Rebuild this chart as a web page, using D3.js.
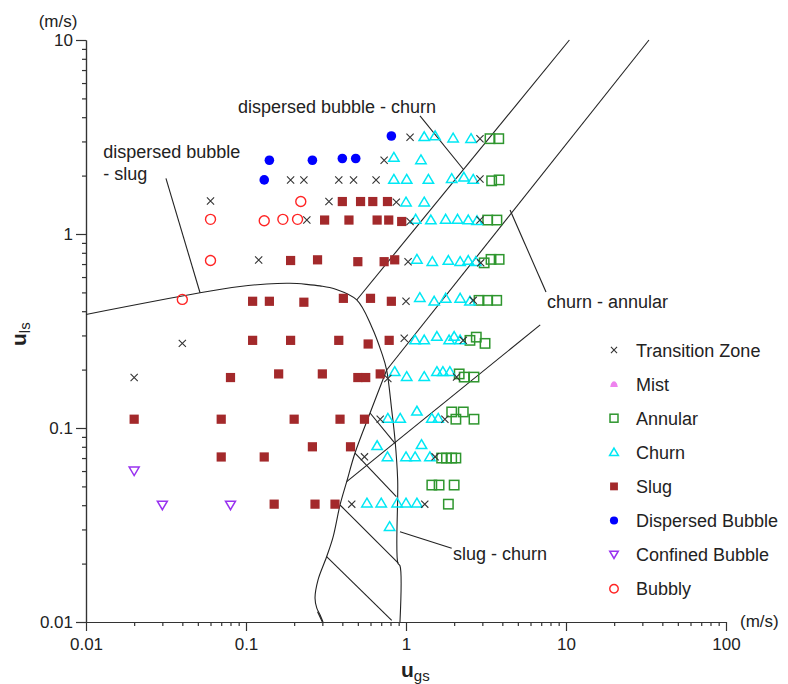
<!DOCTYPE html>
<html><head><meta charset="utf-8">
<script src="https://cdn.jsdelivr.net/npm/d3@7"></script>
<style>
body{margin:0;background:#fff;}
svg text{font-family:"Liberation Sans",Arial,sans-serif;fill:#222;}
</style></head><body>
<svg id="c" width="788" height="684"></svg>
<script>
// ---------- data ----------
const xTickValues = [0.01, 0.1, 1, 10, 100];
const xTickLabels = ["0.01", "0.1", "1", "10", "100"];
const yTickValues = [0.01, 0.1, 1, 10];
const yTickLabels = ["0.01", "0.1", "1", "10"];

const seriesNames = ["Transition Zone", "Mist", "Annular", "Churn", "Slug", "Dispersed Bubble", "Confined Bubble", "Bubbly"];

const transitionZone = [[1.06,3.15],[2.9,3.1],[0.73,2.4],[0.19,1.9],[0.23,1.9],[0.38,1.9],[0.47,1.9],[0.65,1.9],[2.9,1.92],[0.06,1.48],[0.33,1.47],[0.87,1.46],[0.24,1.18],[1.06,1.16],[2.9,1.18],[0.12,0.735],[1.03,0.72],[2.93,0.71],[1.0,0.45],[2.63,0.455],[0.04,0.273],[0.975,0.29],[2.28,0.283],[0.02,0.182],[0.77,0.18],[2.07,0.183],[0.69,0.111],[1.75,0.111],[0.55,0.071],[1.52,0.071],[0.458,0.0405],[1.31,0.0405]];
const mist = [];
const annular = [[3.35,3.1],[3.8,3.1],[3.43,1.88],[3.82,1.9],[3.24,1.18],[3.7,1.18],[3.08,0.71],[3.4,0.74],[3.82,0.74],[2.86,0.455],[3.24,0.455],[3.69,0.455],[2.51,0.283],[2.75,0.294],[3.12,0.273],[2.15,0.19],[2.31,0.183],[2.66,0.183],[1.93,0.121],[2.05,0.111],[2.28,0.121],[2.66,0.111],[1.67,0.07],[1.79,0.07],[1.93,0.07],[2.05,0.07],[1.45,0.0508],[1.61,0.0508],[2.0,0.0508],[1.84,0.0405]];
const churn = [[1.3,3.17],[1.52,3.2],[1.97,3.12],[2.55,3.1],[0.84,2.48],[1.24,2.41],[0.84,1.91],[1.01,1.91],[1.38,1.91],[1.93,1.93],[2.3,1.96],[2.63,1.91],[1.0,1.46],[1.3,1.46],[1.15,1.19],[1.43,1.18],[1.77,1.19],[2.1,1.19],[2.45,1.18],[2.78,1.17],[1.17,0.74],[1.46,0.72],[1.84,0.73],[2.18,0.72],[2.45,0.73],[2.73,0.72],[1.22,0.47],[1.5,0.45],[1.77,0.466],[2.18,0.466],[2.51,0.45],[1.14,0.284],[1.3,0.284],[1.56,0.296],[1.86,0.284],[2.0,0.296],[2.18,0.284],[0.85,0.195],[1.01,0.184],[1.3,0.184],[1.56,0.195],[1.7,0.195],[1.88,0.195],[0.77,0.112],[0.92,0.112],[1.17,0.122],[1.45,0.112],[1.59,0.112],[0.66,0.081],[1.25,0.082],[0.766,0.071],[1.0,0.071],[1.14,0.071],[1.41,0.071],[0.57,0.041],[0.7,0.041],[0.88,0.041],[1.0,0.041],[1.17,0.041],[0.79,0.031]];
const slug = [[0.4,1.47],[0.52,1.47],[0.62,1.47],[0.766,1.47],[0.31,1.18],[0.44,1.18],[0.66,1.18],[0.78,1.18],[0.94,1.16],[0.19,0.73],[0.28,0.736],[0.5,0.72],[0.73,0.72],[0.85,0.736],[0.11,0.45],[0.14,0.45],[0.23,0.445],[0.406,0.466],[0.6,0.466],[0.81,0.45],[0.11,0.283],[0.19,0.283],[0.38,0.283],[0.58,0.271],[0.785,0.283],[0.08,0.182],[0.16,0.19],[0.30,0.19],[0.5,0.182],[0.56,0.182],[0.69,0.19],[0.02,0.111],[0.07,0.111],[0.2,0.111],[0.387,0.111],[0.55,0.111],[0.26,0.08],[0.45,0.08],[0.07,0.0709],[0.13,0.0709],[0.15,0.0405],[0.27,0.0405],[0.36,0.0405]];
const dispersedBubble = [[0.81,3.2],[0.14,2.4],[0.26,2.4],[0.4,2.45],[0.485,2.45],[0.13,1.9]];
const confinedBubble = [[0.02,0.06],[0.03,0.04],[0.08,0.04]];
const bubbly = [[0.22,1.47],[0.06,1.19],[0.13,1.17],[0.17,1.19],[0.21,1.19],[0.06,0.73],[0.04,0.46]];

// transition boundaries [ugs, uls]
const curveBubbleSlug = [[0.01,0.385],[0.0516,0.498],[0.0917,0.536],[0.1346,0.5525],[0.188,0.557],[0.239,0.55],[0.29,0.54],[0.36,0.52],[0.492,0.457],[0.61,0.333],[0.705,0.244],[0.757,0.199],[0.814,0.124],[0.854,0.0867],[0.887,0.054],[0.89,0.0201],[0.917,0.0195],[0.917,0.01]];
const lineBubbleChurn = [[0.492,0.457],[10.5,10]];
const lineChurnAnnular = [[0.757,0.199],[33,10]];
const curveSlugChurn = [[0.757,0.199],[0.596,0.1195],[0.48,0.0743],[0.426,0.0529],[0.387,0.0401],[0.35,0.0274],[0.319,0.0217],[0.282,0.0165],[0.27,0.0133],[0.277,0.0118],[0.29,0.0109],[0.303,0.01]];
const lineThird = [[0.426,0.0529],[6.9,0.34]];
const hatchLines = [
  [[0.596,0.1195],[0.854,0.0834]],
  [[0.48,0.0743],[0.87,0.0443]],
  [[0.387,0.0401],[0.895,0.0201]],
  [[0.319,0.0217],[0.814,0.0102]],
  [[0.28,0.0113],[0.30,0.01]]
];
const annotations = [
  {lines:["dispersed bubble","- slug"], at:[0.0128,2.465], pointer:[[0.0316,1.937],[0.0516,0.498]]},
  {lines:["dispersed bubble - churn"], at:[0.089,4.2], pointer:[[1.223,4.06],[2.28,2.156]]},
  {lines:["churn - annular"], at:[7.6,0.4156], pointer:[[4.47,1.33],[7.5,0.502]]},
  {lines:["slug - churn"], at:[1.967,0.0209], pointer:[[0.917,0.0292],[1.93,0.024]]}
];

// ---------- layout ----------
const svg = d3.select("#c");
const x = d3.scaleLog().domain([0.01, 100]).range([86, 726]);
const y = d3.scaleLog().domain([0.01, 10]).range([622, 40]);
const axisColor = "#333";

// minor ticks
const xMinor = x.ticks().filter(v => !xTickValues.some(t => Math.abs(t - v) < 1e-12));
const yMinor = y.ticks().filter(v => !yTickValues.some(t => Math.abs(t - v) < 1e-12));

const gx = svg.append("g").attr("transform", `translate(0,${y.range()[0]})`);
gx.call(d3.axisBottom(x).tickValues(xMinor).tickSize(4).tickSizeOuter(0).tickFormat(""));
const gxM = svg.append("g").attr("transform", `translate(0,${y.range()[0]})`);
gxM.call(d3.axisBottom(x).tickValues(xTickValues).tickSize(9).tickSizeOuter(0).tickPadding(7)
  .tickFormat((d, i) => xTickLabels[i]));
const gy = svg.append("g").attr("transform", `translate(${x.range()[0]},0)`);
gy.call(d3.axisLeft(y).tickValues(yMinor).tickSize(4).tickSizeOuter(0).tickFormat(""));
const gyM = svg.append("g").attr("transform", `translate(${x.range()[0]},0)`);
gyM.call(d3.axisLeft(y).tickValues(yTickValues).tickSize(10).tickSizeOuter(0).tickPadding(3)
  .tickFormat((d, i) => yTickLabels[i]));
svg.selectAll(".domain, .tick line").attr("stroke", axisColor).attr("stroke-width", 1.2);
svg.selectAll(".tick text").style("font-size", "17px").style("fill", "#222")
  .style("font-family", '"Liberation Sans",Arial,sans-serif');

// unit labels
svg.append("text").attr("x", 58).attr("y", 27).attr("text-anchor", "middle").style("font-size", "17px").text("(m/s)");
svg.append("text").attr("x", 740).attr("y", 627).style("font-size", "17px").text("(m/s)");

// axis titles
const tx = svg.append("text").attr("x", 401).attr("y", 677).style("font-size", "21px");
tx.append("tspan").style("font-weight", "bold").text("u");
tx.append("tspan").attr("dy", 4).style("font-size", "15px").text("gs");
const ty = svg.append("text").attr("transform", "translate(26,346) rotate(-90)").style("font-size", "21px");
ty.append("tspan").style("font-weight", "bold").text("u");
ty.append("tspan").attr("dy", 4).style("font-size", "15px").text("ls");

// boundary lines
const lineGen = d3.line().x(d => x(d[0])).y(d => y(d[1]));
const smooth = d3.line().x(d => x(d[0])).y(d => y(d[1])).curve(d3.curveCatmullRom.alpha(0.5));
const lg = svg.append("g").attr("fill", "none").attr("stroke", "#222").attr("stroke-width", 1.1);
lg.append("path").attr("d", smooth(curveBubbleSlug));
lg.append("path").attr("d", lineGen(lineBubbleChurn));
lg.append("path").attr("d", lineGen(lineChurnAnnular));
lg.append("path").attr("d", smooth(curveSlugChurn));
lg.append("path").attr("d", lineGen(lineThird));
hatchLines.forEach(h => lg.append("path").attr("d", lineGen(h)));
annotations.forEach(a => lg.append("path").attr("d", lineGen(a.pointer)));

annotations.forEach(a => {
  const t = svg.append("text").attr("x", x(a.at[0])).attr("y", y(a.at[1])).style("font-size", "18px");
  a.lines.forEach((s, i) => t.append("tspan").attr("x", x(a.at[0])).attr("dy", i ? 22 : 0).text(s));
});

// markers
const styles = {
  "Transition Zone": {draw: (g, s) => g.append("path").attr("d", `M${-3.6*s},${-3.6*s}L${3.6*s},${3.6*s}M${-3.6*s},${3.6*s}L${3.6*s},${-3.6*s}`).attr("stroke", "#333").attr("stroke-width", 1.1).attr("fill", "none")},
  "Mist": {draw: (g, s) => g.append("path").attr("d", `M${-4.5*s},${3.5*s}L${-3.5*s},${-0.5*s}Q0,${-6*s} ${3.5*s},${-0.5*s}L${4.5*s},${3.5*s}Z`).attr("fill", "#ee82ee")},
  "Annular": {draw: (g, s) => g.append("rect").attr("x", -4.7*s).attr("y", -4.7*s).attr("width", 9.4*s).attr("height", 9.4*s).attr("fill", "none").attr("stroke", "#2e962e").attr("stroke-width", 1.5)},
  "Churn": {draw: (g, s) => g.append("path").attr("d", `M0,${-5*s}L${5.2*s},${3.8*s}L${-5.2*s},${3.8*s}Z`).attr("fill", "none").attr("stroke", "#00e8f4").attr("stroke-width", 1.5)},
  "Slug": {draw: (g, s) => g.append("rect").attr("x", -4.6*s).attr("y", -4.6*s).attr("width", 9.2*s).attr("height", 9.2*s).attr("fill", "#a3292b")},
  "Dispersed Bubble": {draw: (g, s) => g.append("circle").attr("r", 4.8*s).attr("fill", "#0000ff")},
  "Confined Bubble": {draw: (g, s) => g.append("path").attr("d", `M${-5*s},${-4*s}L${5*s},${-4*s}L0,${4.5*s}Z`).attr("fill", "none").attr("stroke", "#9932f0").attr("stroke-width", 1.5)},
  "Bubbly": {draw: (g, s) => g.append("circle").attr("r", 5*s).attr("fill", "none").attr("stroke", "#ff2424").attr("stroke-width", 1.4)}
};
const seriesData = [transitionZone, mist, annular, churn, slug, dispersedBubble, confinedBubble, bubbly];
const drawOrder = [4, 5, 7, 6, 2, 3, 1, 0];
drawOrder.forEach(k => {
  const name = seriesNames[k];
  seriesData[k].forEach(d => {
    const g = svg.append("g").attr("transform", `translate(${x(d[0])},${y(d[1])})`);
    styles[name].draw(g, 1);
  });
});

// legend
const legY0 = 350, legDy = 34.1;
seriesNames.forEach((name, i) => {
  const g = svg.append("g").attr("transform", `translate(614,${legY0 + i * legDy})`);
  styles[name].draw(g, 0.85);
  svg.append("text").attr("x", 636).attr("y", legY0 + i * legDy + 6.5).style("font-size", "18px").text(name);
});
</script>
</body></html>
